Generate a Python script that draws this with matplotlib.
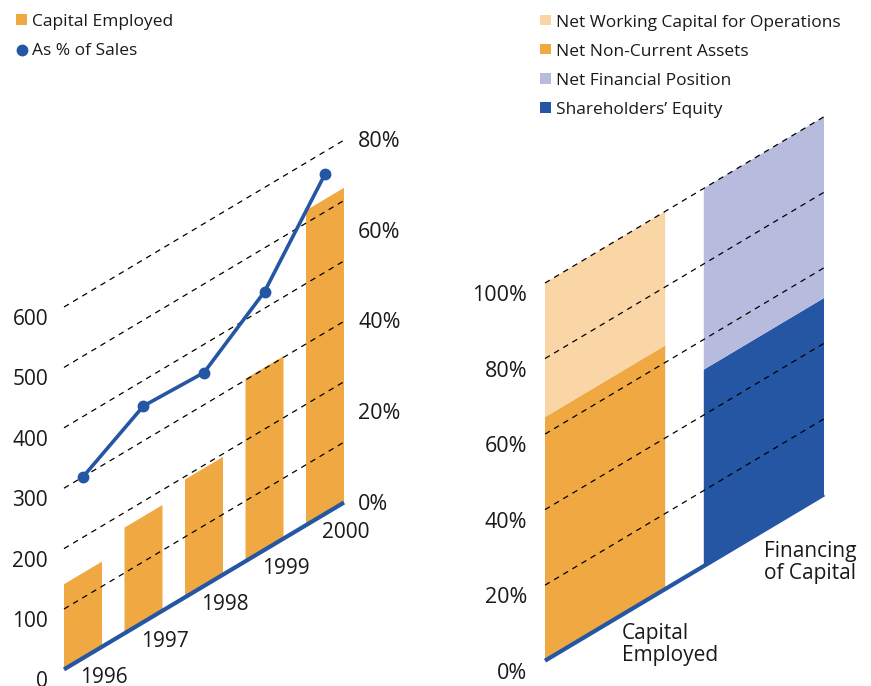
import numpy as np
import matplotlib
matplotlib.use('Agg')
import matplotlib.pyplot as plt
from matplotlib.transforms import Affine2D, ScaledTranslation
from matplotlib.patches import Rectangle

plt.rcParams['font.family'] = ['Open Sans', 'DejaVu Sans']

# left chart: capital employed and its ratio to sales
years = ['1996', '1997', '1998', '1999', '2000']
capital_employed = [141, 175, 195, 302, 521]
pct_of_sales = [40, 47.7, 47.1, 57, 75]
value_ticks = [0, 100, 200, 300, 400, 500, 600]
pct_ticks = [0, 20, 40, 60, 80]

# right chart: structure of capital employed vs. its financing (%)
mix_cats = ['Capital\nEmployed', 'Financing\nof Capital']
net_non_current = [64.5, 0]
net_working_cap = [35.5, 0]
shareholders_eq = [0, 52]
net_financial = [0, 48]
mix_ticks = [0, 20, 40, 60, 80, 100]

ORANGE = '#F0A842'
PEACH = '#FAD5A6'
LAVENDER = '#B7BBDD'
BLUE = '#2456A3'
TXT = '#1a1a1a'

W, H = 871, 686
fig = plt.figure(figsize=(W / 100, H / 100), dpi=100)
SLOPE = 0.596  # baseline rise per pixel


def px(dx, dy):
    # offset in pixels (y down)
    return ScaledTranslation(dx / 100, -dy / 100, fig.dpi_scale_trans)


def sheared_axes(left, right, base, height, xlim, ylim):
    ax = fig.add_axes([left / W, (H - base) / H, (right - left) / W, height / H])
    ax.set_xlim(*xlim)
    ax.set_ylim(*ylim)
    ax.axis('off')
    k = SLOPE * (right - left) / height
    tr = ax.transScale + ax.transLimits + Affine2D().skew(0, np.arctan(k)) + ax.transAxes
    return ax, tr


def dashes(ax, tr, levels, xlim):
    for v in levels:
        ax.plot(xlim, [v, v], transform=tr, color='black', lw=0.9,
                linestyle=(0, (4.5, 4)), clip_on=False, zorder=3)


# ---------- left chart ----------
xl = (-0.314, 4.314)
ax1, tr1 = sheared_axes(64, 344, 669.4, 650 * 0.604, xl, (0, 650))
x = np.arange(len(years))
ax1.bar(x, capital_employed, width=0.628, color=ORANGE, transform=tr1,
        clip_on=False, zorder=1)
dashes(ax1, tr1, value_ticks[1:], xl)
ax1.plot(xl, [0, 0], transform=tr1, color=BLUE, lw=3, clip_on=False,
         solid_capstyle='butt', zorder=4)
tr1p = Affine2D().scale(1, 600 / 80) + tr1
ax1.plot(x, pct_of_sales, transform=tr1p, color=BLUE, lw=2.6, marker='o',
         ms=7.5, clip_on=False, zorder=5)
for v in value_ticks:
    ax1.text(xl[0], v, str(v), transform=tr1 + px(-16, 18), ha='right',
             va='baseline', fontsize=15, color=TXT)
for p in pct_ticks:
    ax1.text(xl[1], p, f'{p}%', transform=tr1p + px(14, 7), ha='left',
             va='baseline', fontsize=15.5, color=TXT)
for i, yr in enumerate(years):
    ax1.text(i, 0, yr, transform=tr1 + px(21, 24.5), ha='center',
             va='baseline', fontsize=15, color=TXT)
ax1.set_xlim(*xl)
ax1.set_ylim(0, 650)

# ---------- right chart ----------
xr = (-0.3785, 1.3785)
ax2, tr2 = sheared_axes(545, 824, 660.7, 110 * 3.777, xr, (0, 110))
c = np.arange(len(mix_cats))
bw = 0.757
ax2.bar(c, net_non_current, width=bw, color=ORANGE, transform=tr2, clip_on=False, zorder=1)
ax2.bar(c, net_working_cap, width=bw, bottom=net_non_current, color=PEACH,
        transform=tr2, clip_on=False, zorder=1)
ax2.bar(c, shareholders_eq, width=bw, color=BLUE, transform=tr2, clip_on=False, zorder=1)
ax2.bar(c, net_financial, width=bw, bottom=shareholders_eq, color=LAVENDER,
        transform=tr2, clip_on=False, zorder=1)
dashes(ax2, tr2, mix_ticks[1:], xr)
ax2.plot(xr, [0, 0], transform=tr2, color=BLUE, lw=3, clip_on=False,
         solid_capstyle='butt', zorder=4)
for p in mix_ticks:
    ax2.text(xr[0], p, f'{p}%', transform=tr2 + px(-18, 18), ha='right',
             va='baseline', fontsize=15.5, color=TXT)
cat_off = [(17, 20), (0, 32)]
for i, lab in enumerate(mix_cats):
    ax2.text(i, 0, lab, transform=tr2 + px(*cat_off[i]), ha='left', va='center',
             fontsize=15, color=TXT, linespacing=1.05)
ax2.set_xlim(*xr)
ax2.set_ylim(0, 110)

# ---------- legends (figure pixel space) ----------
lg = fig.add_axes([0, 0, 1, 1])
lg.set_xlim(0, W)
lg.set_ylim(H, 0)
lg.axis('off')
lg.add_patch(Rectangle((16, 14), 10.5, 10.5, color=ORANGE, lw=0))
lg.text(32, 26, 'Capital Employed', fontsize=12.5, color=TXT, va='baseline')
lg.plot([21.5], [49.5], 'o', color=BLUE, ms=7.5)
lg.text(32, 55, 'As % of Sales', fontsize=12.5, color=TXT, va='baseline')

right_leg = [('Net Working Capital for Operations', PEACH),
             ('Net Non-Current Assets', ORANGE),
             ('Net Financial Position', LAVENDER),
             ("Shareholders\u2019 Equity", BLUE)]
for j, (lab, col) in enumerate(right_leg):
    yb = 26.7 + j * 29.2
    lg.add_patch(Rectangle((540, yb - 12), 10.5, 10.5, color=col, lw=0))
    lg.text(556, yb, lab, fontsize=12.5, color=TXT, va='baseline')

fig.savefig('out.png', dpi=100)
